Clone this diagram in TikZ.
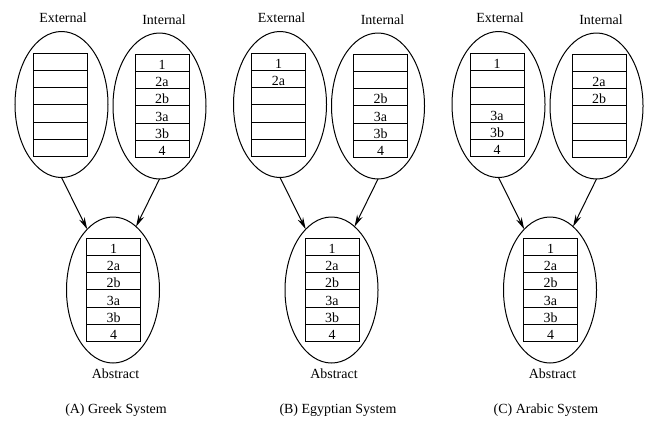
\documentclass[tikz,border=0pt]{standalone}
\usepackage{fontspec}
\setmainfont{Liberation Serif}
\usetikzlibrary{shapes.geometric,arrows.meta}

\begin{document}
\begin{tikzpicture}[x=1bp,y=-1bp,font=\fontsize{14}{16}\selectfont]
      \tikzstyle{bubble}=[ellipse,draw,line width=1bp,
        minimum width=93bp,minimum height=146bp,inner sep=0pt,outer sep=0pt]
      \tikzstyle{slot}=[rectangle,draw,line width=1bp,
        minimum width=54bp,minimum height=17.33bp,inner sep=0pt,outer sep=0pt,
        text height=13bp,text depth=0pt]
      \tikzstyle{ar}=[-{Stealth[length=12bp,width=6bp]},line width=1bp]

      \useasboundingbox (0,0) rectangle (647,420);

      \foreach \p/\dx/\capx/\cap/\extrows/\introws in {
        a/0/116/{(A) Greek System}/{{},{},{},{},{},{}}/{1,2a,2b,3a,3b,4},
        b/218.5/338/{(B) Egyptian System}/{1,2a,{},{},{},{}}/{{},{},2b,3a,3b,4},
        c/437/546/{(C) Arabic System}/{1,{},{},3a,3b,4}/{{},2a,2b,{},{},{}}}{
        \begin{scope}[xshift=\dx bp]
          \node[bubble] (\p ext) at (61.5,104.5) {};
          \node[bubble] (\p int) at (159.5,106)  {};
          \node[bubble] (\p abs) at (113,290)    {};

          \node (\p extlab) at (63,17.5)   {External};
          \node (\p intlab) at (164,19.5)  {Internal};
          \node (\p abslab) at (115.5,374) {Abstract};

          \foreach \t [count=\r] in \extrows
            \node[slot] (\p ext\r) at (60,{53+(\r-0.5)*17.33}) {\t};
          \foreach \t [count=\r] in \introws
            \node[slot] (\p int\r) at (162,{54+(\r-0.5)*17.33}) {\t};
          \foreach \t [count=\r] in {1,2a,2b,3a,3b,4}
            \node[slot] (\p abs\r) at (113.5,{238+(\r-0.5)*17.33}) {\t};

          \draw[ar] (\p ext.south) -- (\p abs.113);
          \draw[ar] (\p int.south) -- (\p abs.70);
        \end{scope}
        \node (\p cap) at (\capx,410) {\cap};
      }
    \end{tikzpicture}
\end{document}
